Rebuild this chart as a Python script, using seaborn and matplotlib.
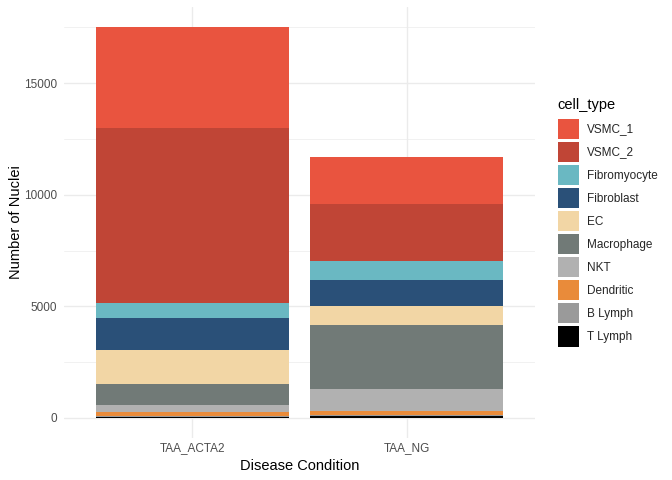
import pandas as pd
import matplotlib
matplotlib.use('Agg')
import matplotlib.pyplot as plt
import seaborn as sns
from matplotlib.patches import Patch

# dados
condicoes = ['TAA_ACTA2', 'TAA_NG']
tipos = ['VSMC_1', 'VSMC_2', 'Fibromyocyte', 'Fibroblast', 'EC',
         'Macrophage', 'NKT', 'Dendritic', 'B Lymph', 'T Lymph']
n_acta2 = [4525, 7841, 672, 1433, 1524, 941, 300, 206, 30, 46]
n_ng = [2106, 2554, 851, 1165, 851, 2868, 972, 179, 72, 76]
cores = ['#E9543F', '#C04536', '#6AB8C2', '#2A5078', '#F2D6A5',
         '#717A77', '#B1B1B1', '#E98B3A', '#9A9A9A', '#000000']

df = pd.DataFrame({
    'condition': [condicoes[0]] * len(tipos) + [condicoes[1]] * len(tipos),
    'cell_type': tipos * 2,
    'n': n_acta2 + n_ng,
})
paleta = dict(zip(tipos, cores))

sns.set_theme(style='white')
plt.rcParams['font.family'] = ['Liberation Sans', 'DejaVu Sans']

fig = plt.figure(figsize=(6.72, 4.8), dpi=100)
ax = fig.add_axes([0.0952, 0.0885, 0.7009, 0.8961])

# grade (maior e menor) estilo theme_minimal
for v in [0, 5000, 10000, 15000]:
    ax.axhline(v, color='#EBEBEB', lw=1.0, zorder=0)
for v in [2500, 7500, 12500, 17500]:
    ax.axhline(v, color='#EBEBEB', lw=0.5, zorder=0)
for v in [0, 1]:
    ax.axvline(v, color='#EBEBEB', lw=1.0, zorder=0)

# primeiro nivel do hue fica embaixo -> T Lymph primeiro
sns.histplot(data=df, x='condition', weights='n', hue='cell_type',
             hue_order=tipos, palette=paleta, multiple='stack',
             discrete=True, shrink=0.9, alpha=1, linewidth=0,
             legend=False, ax=ax, zorder=2)

total = max(sum(n_acta2), sum(n_ng))
ax.set_ylim(-0.05 * total, 1.05 * total)
ax.set_xlim(-0.6, 1.6)
ax.set_xticks([0, 1])
ax.set_xticklabels(condicoes)
ax.set_yticks([0, 5000, 10000, 15000])
ax.set_yticklabels(['0', '5000', '10000', '15000'])
ax.tick_params(axis='both', length=0, labelsize=8.45, colors='#4D4D4D')
ax.tick_params(axis='x', pad=3.5)
ax.tick_params(axis='y', pad=4.75)
for s in ax.spines.values():
    s.set_visible(False)
ax.grid(False)
ax.set_xlabel('Disease Condition', fontsize=10.56, color='black', labelpad=3)
ax.set_ylabel('Number of Nuclei', fontsize=10.56, color='black', labelpad=1)

# legenda manual (titulo separado)
fig.text(557 / 672, 1 - 105 / 480, 'cell_type', fontsize=10.56,
         ha='left', va='center', color='black')
handles = [Patch(facecolor=c, edgecolor='white', linewidth=0) for c in cores]
fig.legend(handles, tipos, loc='upper left',
           bbox_to_anchor=(558 / 672, 1 - 118.5 / 480), frameon=False,
           fontsize=8.45, handlelength=1.77,
           handleheight=2.335, labelspacing=0.2, handletextpad=0.66,
           borderpad=0, borderaxespad=0)

fig.savefig('out.png', dpi=100)
